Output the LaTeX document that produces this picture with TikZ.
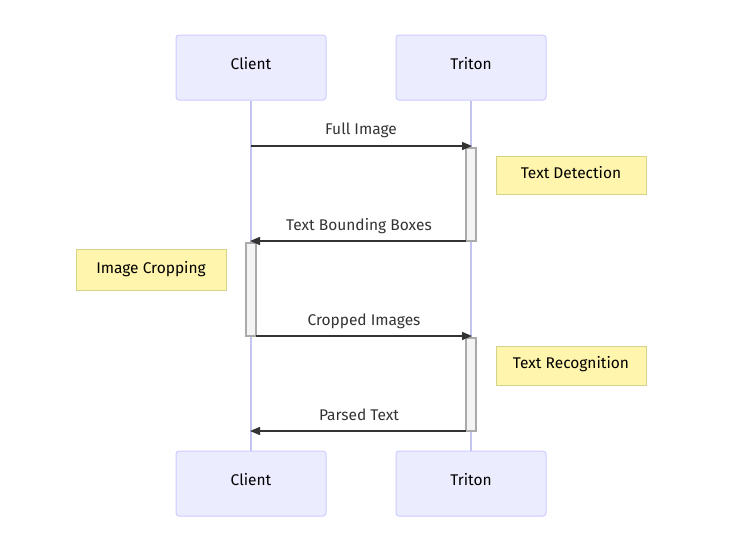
\documentclass[tikz,border=0pt]{standalone}
\usepackage{fontspec}
\setmainfont{Fira Sans}
\usetikzlibrary{arrows.meta}
\definecolor{actfill}{HTML}{ECECFF}
\definecolor{actdraw}{HTML}{CCCCFF}
\definecolor{life}{HTML}{C4C4F0}
\definecolor{notefill}{HTML}{FFF5AD}
\definecolor{notedraw}{HTML}{D3D38A}
\definecolor{acvfill}{HTML}{F4F4F4}
\definecolor{acvdraw}{HTML}{AAAAAA}
\definecolor{msg}{HTML}{333333}
\tikzset{
  actor/.style={draw=actdraw, fill=actfill, rounded corners=3pt, line width=1pt,
    minimum width=150pt, minimum height=65pt, inner sep=0pt, font=\fontsize{15.5}{18}\selectfont},
  notebox/.style={draw=notedraw, fill=notefill, line width=1pt,
    minimum width=150pt, inner sep=0pt, font=\fontsize{15.5}{18}\selectfont},
  actv/.style={draw=acvdraw, fill=acvfill, line width=1.2pt, minimum width=10pt, inner sep=0pt},
  lifeline/.style={draw=life, line width=1.2pt},
  message/.style={draw=msg, line width=1.3pt, -{Triangle[length=10pt,width=8pt]}},
  msglabel/.style={text=msg, font=\fontsize{15.5}{18}\selectfont, inner sep=0pt}
}
\begin{document}
\begin{tikzpicture}[x=1pt,y=-1pt]
\useasboundingbox (0,0) rectangle (735,549);
% actors
\node[actor] (c1) at (251,67.5) {\raisebox{9pt}{Client}};
\node[actor] (t1) at (471,67.5) {\raisebox{9pt}{Triton}};
\node[actor] (c2) at (251,483.5) {\raisebox{9pt}{Client}};
\node[actor] (t2) at (471,483.5) {\raisebox{9pt}{Triton}};
% lifelines
\draw[lifeline] (c1.south) -- (c2.north);
\draw[lifeline] (t1.south) -- (t2.north);
% activations
\node[actv, minimum height=93pt] (a1) at (471,194.5) {};
\node[actv, minimum height=93pt] (a2) at (251,289.5) {};
\node[actv, minimum height=93pt] (a3) at (471,384.5) {};
% notes
\node[notebox, minimum height=38pt] (n1) at (571,175) {\raisebox{5.5pt}{Text Detection}};
\node[notebox, minimum height=41pt] (n2) at (151,269.5) {\raisebox{3.5pt}{Image Cropping}};
\node[notebox, minimum height=39pt] (n3) at (571,365.5) {\raisebox{5.5pt}{Text Recognition}};
% message endpoints
\coordinate (m1s) at (251,146);
\coordinate (m1e) at (472,146);
\coordinate (m2s) at (466,241);
\coordinate (m2e) at (250,241);
\coordinate (m3s) at (256,336);
\coordinate (m3e) at (472,336);
\coordinate (m4s) at (466,431);
\coordinate (m4e) at (250,431);
\draw[message] (m1s) -- (m1e);
\draw[message] (m2s) -- (m2e);
\draw[message] (m3s) -- (m3e);
\draw[message] (m4s) -- (m4e);
\node[msglabel] (l1) at (361,130) {Full Image};
\node[msglabel] (l2) at (359,226) {Text Bounding Boxes};
\node[msglabel] (l3) at (364,321) {Cropped Images};
\node[msglabel] (l4) at (359,415) {Parsed Text};
\end{tikzpicture}
\end{document}
